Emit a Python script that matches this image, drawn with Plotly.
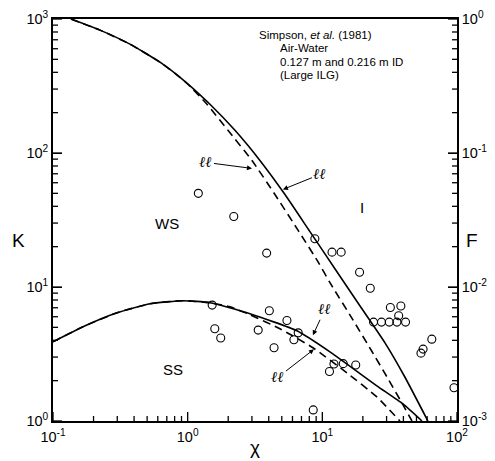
import plotly.graph_objects as go

# ---- data ----
chi_pts = [1.2, 2.2, 3.86, 8.8, 11.8, 13.8, 18.9, 22.7, 32.0, 38.3, 36.9, 24.0, 27.5, 31.4,
           35.8, 41.5, 65.0, 56.0, 54.0, 95.0, 1.52, 4.04, 1.59, 1.76, 3.34, 5.46, 6.62,
           6.15, 4.38, 12.2, 14.3, 17.7, 11.3, 8.56]
K_pts = [50, 33.6, 17.9, 22.9, 18.2, 18.2, 12.9, 9.8, 7.04, 7.21, 6.10, 5.47, 5.47, 5.47,
         5.47, 5.47, 4.08, 3.44, 3.21, 1.77, 7.33, 6.65, 4.88, 4.16, 4.77, 5.63, 4.55,
         4.04, 3.52, 2.66, 2.68, 2.62, 2.34, 1.21]

chi_up_solid = [0.136, 0.2233, 0.3728, 0.6229, 0.9714, 1.464, 2.245, 3.44, 5.28, 8.09,
                12.4, 19.0, 29.2, 41.0, 60.8]
K_up_solid = [1000, 826, 649, 476, 337, 231, 147.6, 88.0, 49.0, 25.9, 13.7, 7.25, 3.83, 2.13, 1.0]

chi_up_dash = [0.136, 0.2233, 0.3728, 0.6229, 0.9714, 1.391, 1.992, 3.003, 4.447, 6.705,
               9.275, 11.39, 16.87, 22.95, 30.2, 38.99, 46.3]
K_up_dash = [1000, 826, 649, 476, 337, 231, 147.6, 88.0, 49.0, 25.9, 15.46, 10.77, 5.69,
             3.40, 2.134, 1.363, 1.0]

chi_lo_solid = [0.1, 0.167, 0.2986, 0.525, 0.923, 1.464, 2.90, 6.48, 11.39, 25.4, 39.7, 54.9]
K_lo_solid = [3.90, 5.05, 6.42, 7.50, 7.90, 7.63, 6.32, 4.71, 3.28, 1.83, 1.34, 1.0]

chi_lo_dash = [0.1, 0.167, 0.2986, 0.525, 0.923, 1.464, 2.061, 2.90, 4.844, 8.51, 15.23, 25.4, 37.7]
K_lo_dash = [3.90, 5.05, 6.42, 7.50, 7.90, 7.63, 7.12, 6.21, 4.88, 3.52, 2.286, 1.512, 1.0]

x_ticks = [0.1, 1, 10, 100]
x_ticktext = ["10<sup>-1</sup>", "10<sup>0</sup>", "10<sup>1</sup>", "10<sup>2</sup>"]
k_ticks = [1, 10, 100, 1000]
k_ticktext = ["10<sup>0</sup>", "10<sup>1</sup>", "10<sup>2</sup>", "10<sup>3</sup>"]
f_ticks = [0.001, 0.01, 0.1, 1]
f_ticktext = ["10<sup>-3</sup>", "10<sup>-2</sup>", "10<sup>-1</sup>", "10<sup>0</sup>"]

def minor_vals(lo, hi):
    vals = []
    d = lo
    while d < hi:
        vals += [m * d for m in range(2, 10)]
        d *= 10
    return vals

FONT = "Liberation Sans, Arial, sans-serif"
BLACK = "black"
W, H = 495, 461
ML, MR, MT, MB = 53, 38, 19, 40
PW, PH = W - ML - MR, H - MT - MB
MAJ, MIN = 9, 5  # tick lengths in px

fig = go.Figure()
line_cfg = dict(color=BLACK, width=1.6, shape="spline", smoothing=0.5)
fig.add_trace(go.Scatter(x=chi_up_dash, y=K_up_dash, mode="lines",
                         line=dict(**line_cfg, dash="8px,5px")))
fig.add_trace(go.Scatter(x=chi_lo_dash, y=K_lo_dash, mode="lines",
                         line=dict(**line_cfg, dash="8px,5px")))
fig.add_trace(go.Scatter(x=chi_up_solid, y=K_up_solid, mode="lines", line=line_cfg))
fig.add_trace(go.Scatter(x=chi_lo_solid, y=K_lo_solid, mode="lines", line=line_cfg))
fig.add_trace(go.Scatter(x=chi_pts, y=K_pts, mode="markers",
                         marker=dict(symbol="circle-open", size=8, color=BLACK,
                                     line=dict(width=1.1, color=BLACK))))

def axis(vals, text, **kw):
    return dict(type="log", tickmode="array", tickvals=vals, ticktext=text,
                ticks="inside", ticklen=MAJ, tickwidth=1.3, tickcolor=BLACK,
                showline=True, linecolor=BLACK, linewidth=1.8, automargin=False,
                showgrid=False, zeroline=False,
                tickfont=dict(family=FONT, size=14.5, color=BLACK), **kw)

fig.update_layout(
    template="none",
    width=W, height=H,
    margin=dict(l=ML, r=MR, t=MT, b=MB, autoexpand=False),
    paper_bgcolor="white", plot_bgcolor="white",
    showlegend=False,
    font=dict(family=FONT, color=BLACK),
    xaxis=axis(x_ticks, x_ticktext, range=[-1, 2], mirror=True, ticklabelstandoff=2),
    yaxis=axis(k_ticks, k_ticktext, range=[0, 3]),
    yaxis2=axis(f_ticks, f_ticktext, range=[-3, 0], overlaying="y", side="right"),
)
fig.add_trace(go.Scatter(x=[chi_pts[0]], y=[K_pts[0] / 1000.0], yaxis="y2", mode="markers",
                         marker=dict(opacity=0), hoverinfo="skip"))

# tick marks placed through the axes (data values on the log axes)
tick_line = dict(type="line", line=dict(color=BLACK, width=1.3), layer="above")
for v in x_ticks + minor_vals(0.1, 100):
    L = MAJ if v in x_ticks else MIN
    fig.add_shape(xref="x", yref="y domain", x0=v, x1=v, y0=0, y1=L / PH, **tick_line)
for v in k_ticks + minor_vals(1, 1000):
    L = MAJ if v in k_ticks else MIN
    fig.add_shape(xref="x domain", yref="y", x0=0, x1=L / PW, y0=v, y1=v, **tick_line)
for v in f_ticks + minor_vals(0.001, 1):
    L = MAJ if v in f_ticks else MIN
    fig.add_shape(xref="x domain", yref="y2", x0=1, x1=1 - L / PW, y0=v, y1=v, **tick_line)

# axis titles (upright, as in the reference)
ttl = dict(xref="paper", yref="paper", showarrow=False, xanchor="center", yanchor="middle",
           font=dict(family=FONT, size=19, color=BLACK))
fig.add_annotation(x=-0.0866, y=0.45, text="K", **ttl)
fig.add_annotation(x=1.037, y=0.45, text="F", **ttl)
fig.add_annotation(x=0.5, y=-0.0647, text="χ", **ttl)

# text annotations
txt = dict(xref="paper", yref="paper", showarrow=False, xanchor="left", yanchor="middle",
           font=dict(family=FONT, size=11.5, color=BLACK))
fig.add_annotation(x=0.505, y=0.960, text="Simpson, <i>et al.</i> (1981)", **txt)
fig.add_annotation(x=0.557, y=0.928, text="Air-Water", **txt)
fig.add_annotation(x=0.557, y=0.893, text="0.127 m and 0.216 m ID", **txt)
fig.add_annotation(x=0.557, y=0.861, text="(Large ILG)", **txt)

reg = dict(xref="paper", yref="paper", showarrow=False, xanchor="center", yanchor="middle",
           font=dict(family=FONT, size=15, color=BLACK))
fig.add_annotation(x=0.282, y=0.4925, text="WS", **reg)
fig.add_annotation(x=0.765, y=0.532, text="I", **reg)
fig.add_annotation(x=0.297, y=0.129, text="SS", **reg)

# "ll" labels with arrows (log axes: positions in log10 units)
ll = dict(xref="x", yref="y", showarrow=True, arrowhead=2, arrowsize=1, arrowwidth=1,
          arrowcolor=BLACK, text="<i>ℓℓ</i>", font=dict(family="DejaVu Serif", size=15, color=BLACK))
fig.add_annotation(x=0.4774, y=1.885, ax=-46, ay=-6, **ll)
fig.add_annotation(x=0.7075, y=1.728, ax=37, ay=-15, **ll)
fig.add_annotation(x=0.930, y=0.640, ax=12, ay=-26, **ll)
fig.add_annotation(x=0.9376, y=0.535, ax=-36, ay=28, **ll)

fig.write_html("out.html")
